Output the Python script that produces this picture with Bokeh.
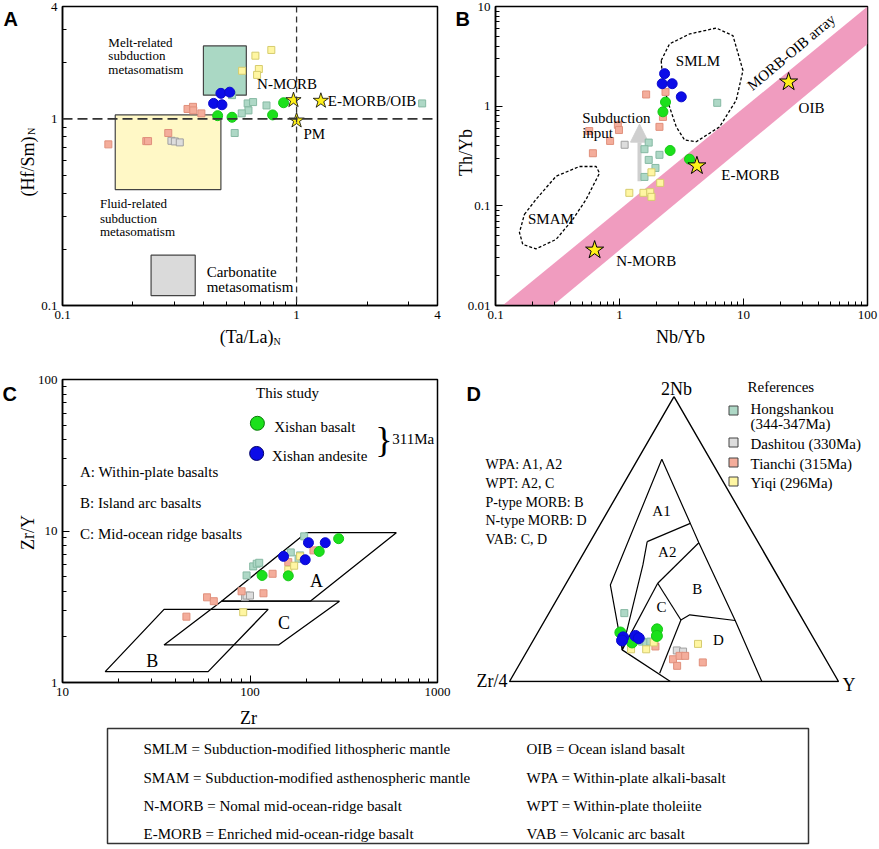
import math
from bokeh.plotting import figure
from bokeh.models import Range1d, Span, Arrow, NormalHead, FixedTicker, CustomJSTickFormatter
from bokeh.layouts import row, column
from bokeh.core.properties import value
from bokeh.embed import file_html
from bokeh.resources import INLINE

SERIF = "Liberation Serif"
SANS = "Liberation Sans"
W, H = 879, 849

GREEN_FILL, GREEN_LINE = "#1be01b", "#14c814"
BLUE_FILL, BLUE_LINE = "#0c0ce8", "#0a0acc"
STAR_FILL = "#fff01a"
REF_NAMES = ["Hongshankou", "Dashitou", "Tianchi", "Yiqi"]
REF_FILL = ["#aed8c6", "#dddddd", "#f4ad9b", "#fff6a2"]
REF_LINE = ["#86b9a3", "#a0a0a0", "#e0907c", "#d6cc6e"]

# ---------------- Panel A : (Ta/La)N vs (Hf/Sm)N ----------------
a_ticks = [0.1, 1, 4]
a_minor = [0.2, 0.3, 0.4, 0.5, 0.6, 0.7, 0.8, 0.9, 2, 3]
a_basalt_x = [0.46, 0.53, 0.79, 0.88]
a_basalt_y = [1.04, 1.02, 1.05, 1.22]
a_andesite_x = [0.475, 0.518, 0.442, 0.48]
a_andesite_y = [1.37, 1.39, 1.21, 1.19]
a_hong_x = [0.53, 0.618, 0.652, 0.623, 0.583, 0.744, 3.44, 0.544]
a_hong_y = [1.34, 1.21, 1.23, 1.11, 1.07, 1.18, 1.21, 0.84]
a_dash_x = [0.292, 0.302, 0.317]
a_dash_y = [0.763, 0.757, 0.748]
a_tian_x = [0.342, 0.361, 0.362, 0.392, 0.157, 0.228, 0.232, 0.283]
a_tian_y = [1.13, 1.16, 1.11, 1.07, 0.73, 0.76, 0.76, 0.84]
a_yiqi_x = [0.667, 0.78, 0.585, 0.69, 0.678]
a_yiqi_y = [2.18, 2.34, 1.81, 1.85, 1.72]
a_end_names = ["N-MORB", "E-MORB/OIB", "PM"]
a_end_x = [0.97, 1.27, 1.0]
a_end_y = [1.26, 1.25, 0.98]
a_field_names = ["Melt-related", "Fluid-related", "Carbonatite"]
a_field_left = [0.40, 0.168, 0.239]
a_field_right = [0.61, 0.475, 0.369]
a_field_bottom = [1.34, 0.418, 0.113]
a_field_top = [2.46, 1.05, 0.186]
a_field_fill = ["#aad8c4", "#fff8c6", "#dadada"]

# ---------------- Panel B : Nb/Yb vs Th/Yb ----------------
b_xticks = [0.1, 1, 10, 100]
b_yticks = [0.01, 0.1, 1, 10]
b_basalt_x = [2.35, 2.24, 2.56, 3.67]
b_basalt_y = [1.10, 0.878, 0.359, 0.294]
b_andesite_x = [2.31, 2.21, 2.66, 3.15]
b_andesite_y = [2.12, 1.68, 1.68, 1.24]
b_hong_x = [6.14, 1.72, 1.59, 2.1, 1.72, 1.95, 1.59]
b_hong_y = [1.08, 0.431, 0.37, 0.325, 0.289, 0.24, 0.195]
b_dash_x = [1.1]
b_dash_y = [0.41]
b_tian_x = [1.64, 2.35, 2.24, 2.1, 0.97, 0.99, 0.84, 0.61, 0.57]
b_tian_y = [1.31, 1.39, 0.78, 0.62, 0.65, 0.576, 0.448, 0.337, 0.563]
b_yiqi_x = [1.81, 2.13, 1.2, 1.56, 1.77, 1.81]
b_yiqi_y = [0.217, 0.17, 0.135, 0.135, 0.137, 0.123]
b_end_names = ["N-MORB", "E-MORB", "OIB"]
b_end_x = [0.63, 4.21, 23.1]
b_end_y = [0.036, 0.252, 1.75]
b_array_x = [0.114, 100, 100, 0.29]
b_array_y = [0.01, 10, 4.2, 0.01]
b_smlm_x = [2.17, 2.53, 3.67, 6.03, 8.22, 9.9, 8.74, 6.41, 4.16, 3.35, 2.87, 2.53, 2.24, 2.17]
b_smlm_y = [2.87, 4.21, 5.3, 6.08, 5.1, 2.28, 1.15, 0.62, 0.44, 0.458, 0.62, 0.985, 1.68, 2.87]
b_smam_x = [0.171, 0.212, 0.308, 0.475, 0.648, 0.69, 0.538, 0.42, 0.308, 0.212, 0.166, 0.156, 0.171]
b_smam_y = [0.082, 0.116, 0.198, 0.248, 0.248, 0.213, 0.116, 0.073, 0.046, 0.037, 0.041, 0.054, 0.082]
b_arrow = (1.45, 0.176, 0.66)

# ---------------- Panel C : Zr vs Zr/Y ----------------
c_xticks = [10, 100, 1000]
c_yticks = [1, 10, 100]
c_basalt_x = [297, 234, 116, 160]
c_basalt_y = [8.9, 7.33, 5.09, 5.06]
c_andesite_x = [205, 252, 151, 197]
c_andesite_y = [8.37, 8.37, 6.8, 6.46]
c_hong_x = [95.9, 104, 108.6, 112, 185, 181.6, 194.5, 165]
c_hong_y = [5.09, 5.84, 6.08, 6.17, 6.9, 6.56, 9.22, 7.22]
c_dash_x = [94, 95.9, 100]
c_dash_y = [3.66, 3.75, 3.75]
c_tian_x = [45.8, 59, 64.1, 90.2, 118, 132, 160, 218]
c_tian_y = [2.72, 3.65, 3.44, 4.0, 3.88, 5.22, 6.23, 7.45]
c_yiqi_x = [92, 160, 172, 185]
c_yiqi_y = [2.91, 5.55, 5.9, 6.8]
c_field_names = ["A", "B", "C"]
c_field_x = [[70.5, 199.5, 603, 209.6], [16.9, 34.8, 125, 59.8], [34.8, 70.5, 300, 142]]
c_field_y = [[3.44, 9.75, 9.75, 3.44], [1.18, 3.04, 3.04, 1.18], [1.77, 3.44, 3.44, 1.77]]

# ---------------- Panel D : 2Nb - Zr/4 - Y (percent) ----------------
d_basalt_nb = [17.2, 13.7, 18.3, 16.0]
d_basalt_zr = [57.7, 55.9, 46.0, 47.2]
d_basalt_y = [25.1, 30.4, 35.7, 36.8]
d_andesite_nb = [15.5, 14.4, 16.0, 15.2]
d_andesite_zr = [57.7, 58.6, 53.7, 53.1]
d_andesite_y = [26.8, 27.0, 30.3, 31.7]
d_hong_nb = [24.0, 14.0, 13.7, 14.0]
d_hong_zr = [53.1, 52.7, 51.6, 50.2]
d_hong_y = [22.9, 33.3, 34.7, 35.8]
d_dash_nb = [10.9, 10.5]
d_dash_zr = [43.7, 42.0]
d_dash_y = [45.4, 47.5]
d_tian_nb = [12.3, 7.8, 9.0, 9.0, 5.5, 6.7]
d_tian_zr = [49.5, 46.4, 43.8, 42.1, 46.3, 37.9]
d_tian_y = [38.2, 45.8, 47.2, 48.9, 48.2, 55.4]
d_yiqi_nb = [11.3, 11.3, 13.7, 13.2]
d_yiqi_zr = [57.4, 52.8, 49.3, 36.1]
d_yiqi_y = [31.3, 35.9, 37.0, 50.7]
d_points = {
    "apex": (78.0, 14.7, 7.3), "left_knee": (33.9, 52.4, 13.7), "base": (11.1, 60.2, 28.7),
    "bottom_mid": (0.0, 51.1, 48.9), "a1a2_r": (55.5, 17.3, 27.2), "a2b_r": (48.7, 18.1, 33.2),
    "bd_r": (21.4, 20.7, 57.9), "bottom_r": (0.0, 23.3, 76.7), "a1a2_l": (49.1, 33.6, 17.3),
    "inner_knee": (40.9, 39.0, 20.1), "c_top": (34.5, 37.7, 27.8), "cd_top": (21.6, 37.1, 41.3),
    "d_knee": (23.4, 33.5, 43.1), "cd_bottom": (2.9, 52.9, 44.2),
}
d_lines = [["apex", "left_knee", "base", "bottom_mid"],
           ["apex", "a1a2_r", "a2b_r", "bd_r", "bottom_r"],
           ["a1a2_l", "inner_knee", "base"], ["a1a2_l", "a1a2_r"], ["a2b_r", "c_top"],
           ["c_top", "base"], ["c_top", "cd_top"], ["cd_top", "d_knee", "bd_r"], ["cd_top", "cd_bottom"]]
d_field_labels = ["A1", "A2", "B", "C", "D"]
d_field_label_pos = [(60.0, 23.8, 16.2), (45.3, 29.4, 25.3), (32.6, 26.6, 40.8), (26.0, 40.8, 33.2), (14.4, 29.3, 56.3)]

# ---------------- helpers ----------------
fmt = CustomJSTickFormatter(code="return String(tick);")


def tern(nb, zr, yy):
    xs, ys = [], []
    for a_, b_, c_ in zip(nb, zr, yy):
        s = a_ + b_ + c_
        a, c = a_ / s, c_ / s
        xs.append(c + a / 2)
        ys.append(a * math.sqrt(3) / 2)
    return xs, ys


def minors(ticks):
    out = []
    for i in range(len(ticks) - 1):
        lo = ticks[i]
        for k in range(2, 10):
            v = lo * k
            if v < ticks[i + 1]:
                out.append(v)
    return out


def style_log(p, xt, xm, yt, ym):
    p.grid.visible = False
    p.outline_line_color = "black"
    p.outline_line_width = 1.5
    p.xaxis.ticker = FixedTicker(ticks=xt, minor_ticks=xm)
    p.yaxis.ticker = FixedTicker(ticks=yt, minor_ticks=ym)
    for ax in (p.xaxis[0], p.yaxis[0]):
        ax.formatter = fmt
        ax.axis_line_width = 1.5
        ax.axis_line_color = "black"
        ax.major_tick_in = 7
        ax.major_tick_out = 0
        ax.minor_tick_in = 4
        ax.minor_tick_out = 0
        ax.major_tick_line_color = "black"
        ax.minor_tick_line_color = "black"
        ax.major_label_text_font = SERIF
        ax.major_label_text_font_size = "13px"
        ax.major_label_text_color = "black"
        ax.major_label_standoff = 5


def dtext(p, xs, ys, texts, size, align="left", angle=0.0, font=SERIF, style="normal", baseline="middle"):
    p.text(x=xs, y=ys, text=texts, text_font=value(font), text_font_size=f"{size}px",
           text_align=align, text_baseline=baseline, angle=angle, text_color="black",
           text_font_style=style)


def squares(p, xs_list, ys_list, size=7):
    for xs, ys, fc, lc in zip(xs_list, ys_list, REF_FILL, REF_LINE):
        p.scatter(xs, ys, marker="square", size=size, fill_color=fc, line_color=lc, line_width=1)


def circles(p, bx, by, ax, ay, size=10):
    p.scatter(bx, by, marker="circle", size=size, fill_color=GREEN_FILL, line_color=GREEN_LINE)
    p.scatter(ax, ay, marker="circle", size=size, fill_color=BLUE_FILL, line_color=BLUE_LINE)


common = dict(output_backend="svg", toolbar_location=None, background_fill_color="white",
              border_fill_color="white")

# ---------------- Panel A ----------------
pA = figure(width=446, height=350, x_axis_type="log", y_axis_type="log",
            x_range=Range1d(0.1, 4), y_range=Range1d(0.1, 4),
            min_border_left=62, min_border_right=9, min_border_top=6, min_border_bottom=45, **common)
style_log(pA, a_ticks, a_minor, a_ticks, a_minor)
pA.quad(left=a_field_left, right=a_field_right, bottom=a_field_bottom, top=a_field_top,
        fill_color=a_field_fill, line_color="#444444", line_width=1.2)
pA.add_layout(Span(location=1, dimension="height", line_color="#333333", line_width=1.3, line_dash="6 4"))
pA.add_layout(Span(location=1, dimension="width", line_color="#333333", line_width=1.6, line_dash="10 5"))
squares(pA, [a_hong_x, a_dash_x, a_tian_x, a_yiqi_x], [a_hong_y, a_dash_y, a_tian_y, a_yiqi_y])
circles(pA, a_basalt_x, a_basalt_y, a_andesite_x, a_andesite_y)
pA.scatter(a_end_x, a_end_y, marker="star", size=16, fill_color=STAR_FILL, line_color="black", line_width=0.8)
dtext(pA, [0.157, 0.157, 0.157], [2.58, 2.18, 1.84], ["Melt-related", "subduction", "metasomatism"], 13)
dtext(pA, [0.1445, 0.1445, 0.1445], [0.351, 0.294, 0.249], ["Fluid-related", "subduction", "metasomatism"], 13)
dtext(pA, [0.413, 0.413], [0.152, 0.126], ["Carbonatite", "metasomatism"], 15)
dtext(pA, [0.678, 1.36, 1.07], [1.53, 1.247, 0.829], a_end_names, 15)

# ---------------- Panel B ----------------
pB = figure(width=433, height=350, x_axis_type="log", y_axis_type="log",
            x_range=Range1d(0.1, 100), y_range=Range1d(0.01, 10),
            min_border_left=49, min_border_right=12, min_border_top=6, min_border_bottom=45, **common)
style_log(pB, b_xticks, minors(b_xticks), b_yticks, minors(b_yticks))
pB.patch(b_array_x, b_array_y, fill_color="#f09cbf", line_color=None)
pB.line(b_smlm_x, b_smlm_y, line_color="black", line_width=1.3, line_dash="3 2")
pB.line(b_smam_x, b_smam_y, line_color="black", line_width=1.3, line_dash="3 2")
pB.add_layout(Arrow(end=NormalHead(size=18, fill_color="#cfcfcf", line_color="#cfcfcf"),
                    x_start=b_arrow[0], y_start=b_arrow[1], x_end=b_arrow[0], y_end=b_arrow[2],
                    line_color="#cfcfcf", line_width=4, level="underlay"))
squares(pB, [b_hong_x, b_dash_x, b_tian_x, b_yiqi_x], [b_hong_y, b_dash_y, b_tian_y, b_yiqi_y])
circles(pB, b_basalt_x, b_basalt_y, b_andesite_x, b_andesite_y)
pB.scatter(b_end_x, b_end_y, marker="star", size=19, fill_color=STAR_FILL, line_color="black", line_width=1)
dtext(pB, [4.29], [2.87], ["SMLM"], 15, align="center")
dtext(pB, [0.28], [0.073], ["SMAM"], 15, align="center")
dtext(pB, [0.5, 0.5], [0.753, 0.534], ["Subduction", "input"], 15)
dtext(pB, [24.3], [3.48], ["MORB-OIB array"], 15, align="center", angle=math.radians(40))
dtext(pB, [27.8, 6.62, 0.94], [0.948, 0.205, 0.0277], ["OIB", "E-MORB", "N-MORB"], 15)

# ---------------- Panel C ----------------
pC = figure(width=455, height=375, x_axis_type="log", y_axis_type="log",
            x_range=Range1d(10, 1000), y_range=Range1d(1, 100),
            min_border_left=62, min_border_right=18, min_border_top=29, min_border_bottom=43, **common)
style_log(pC, c_xticks, minors(c_xticks), c_yticks, minors(c_yticks))
pC.patches(c_field_x, c_field_y, fill_color=None, line_color="black", line_width=1.3)
squares(pC, [c_hong_x, c_dash_x, c_tian_x, c_yiqi_x], [c_hong_y, c_dash_y, c_tian_y, c_yiqi_y])
circles(pC, c_basalt_x, c_basalt_y, c_andesite_x, c_andesite_y)
dtext(pC, [226, 30.1, 152], [4.71, 1.39, 2.47], c_field_names, 18, align="center")
dtext(pC, [158.5], [81.2], ["This study"], 15, align="center")
pC.scatter([109.5], [51.4], marker="circle", size=14, fill_color=GREEN_FILL, line_color="#0a7a0a")
pC.scatter([108.5], [32.5], marker="circle", size=14, fill_color=BLUE_FILL, line_color="#000066")
dtext(pC, [134.5, 131], [48.8, 31.2], ["Xishan basalt", "Xishan andesite"], 15)
dtext(pC, [518], [39.8], ["}"], 36, align="center")
dtext(pC, [574], [40.3], ["311Ma"], 15)
dtext(pC, [12.4, 12.4, 12.4], [24.6, 15.3, 9.6],
      ["A: Within-plate basalts", "B: Island arc basalts", "C: Mid-ocean ridge basalts"], 15)

# ---------------- Panel D (ternary) ----------------
# frame spans page x 455..879, y 379..682; triangle base at page y 681, side 329 px
pD = figure(width=424, height=375, x_range=Range1d(-54 / 329, 370 / 329), y_range=Range1d(-1 / 329, 302 / 329),
            x_axis_location=None, y_axis_location=None, min_border_left=0, min_border_right=0,
            min_border_top=29, min_border_bottom=43, **common)
pD.grid.visible = False
pD.outline_line_color = None
tx, ty = tern([100, 0, 0, 100], [0, 100, 0, 0], [0, 0, 100, 0])
pD.line(tx, ty, line_color="black", line_width=1.4)
for ln in d_lines:
    pts = [d_points[k] for k in ln]
    lx, ly = tern([q[0] for q in pts], [q[1] for q in pts], [q[2] for q in pts])
    pD.line(lx, ly, line_color="black", line_width=1.2)
fx, fy = tern([q[0] for q in d_field_label_pos], [q[1] for q in d_field_label_pos], [q[2] for q in d_field_label_pos])
dtext(pD, fx, fy, d_field_labels, 15, align="center")
sq = [tern(d_hong_nb, d_hong_zr, d_hong_y), tern(d_dash_nb, d_dash_zr, d_dash_y),
      tern(d_tian_nb, d_tian_zr, d_tian_y), tern(d_yiqi_nb, d_yiqi_zr, d_yiqi_y)]
squares(pD, [s[0] for s in sq], [s[1] for s in sq])
bx, by = tern(d_basalt_nb, d_basalt_zr, d_basalt_y)
ax_, ay_ = tern(d_andesite_nb, d_andesite_zr, d_andesite_y)
circles(pD, bx, by, ax_, ay_, size=11)
dtext(pD, [(676 - 509) / 329], [(681 - 388) / 329], ["2Nb"], 18, align="center")
dtext(pD, [-0.073] * 5, [(681 - v) / 329 for v in (464, 483, 502, 520, 539)],
      ["WPA: A1, A2", "WPT: A2, C", "P-type MORB: B", "N-type MORB: D", "VAB: C, D"], 14)
dtext(pD, [(747 - 509) / 329], [(681 - 386) / 329], ["References"], 15)
pD.scatter([(733 - 509) / 329] * 4, [(681 - v) / 329 for v in (410, 442, 462, 481)], marker="square",
           size=9, fill_color=REF_FILL, line_color="#444444", line_width=1)
dtext(pD, [(750 - 509) / 329] * 5, [(681 - v) / 329 for v in (408, 423, 443, 463, 482)],
      ["Hongshankou", "(344-347Ma)", "Dashitou (330Ma)", "Tianchi (315Ma)", "Yiqi (296Ma)"], 15)

# ---------------- Abbreviation box ----------------
pL = figure(width=W, height=124, x_range=Range1d(0, W), y_range=Range1d(H, 725),
            x_axis_location=None, y_axis_location=None, min_border_left=0, min_border_right=0,
            min_border_top=0, min_border_bottom=0, **common)
pL.grid.visible = False
pL.outline_line_color = None
pL.quad(left=[107], right=[808], top=[728], bottom=[843], fill_color=None, line_color="#333333", line_width=1.5)
abbr_left = ["SMLM = Subduction-modified lithospheric mantle",
             "SMAM = Subduction-modified asthenospheric mantle",
             "N-MORB = Nomal mid-ocean-ridge basalt",
             "E-MORB = Enriched mid-ocean-ridge basalt"]
abbr_right = ["OIB = Ocean island basalt", "WPA = Within-plate alkali-basalt",
              "WPT = Within-plate tholeiite", "VAB = Volcanic arc basalt"]
rows_y = [748, 777, 805, 833]
dtext(pL, [143] * 4, rows_y, abbr_left, 15)
dtext(pL, [526] * 4, rows_y, abbr_right, 15)

# ---------------- transparent overlay for texts outside the plot frames ----------------
ov = figure(width=W, height=H, x_range=Range1d(0, W), y_range=Range1d(0, H),
            x_axis_location=None, y_axis_location=None, min_border_left=0, min_border_right=0,
            min_border_top=0, min_border_bottom=0, output_backend="svg", toolbar_location=None,
            background_fill_color=None, border_fill_color=None, outline_line_color=None,
            styles={"position": "absolute", "left": "0px", "top": "0px", "z-index": "5",
                    "pointer-events": "none"})
ov.grid.visible = False


def ovt(px, py, text, size, align="center", baseline="middle", angle=0.0, font=SERIF, style="normal"):
    dtext(ov, [px], [H - py], [text], size, align=align, angle=angle, font=font, style=style,
          baseline=baseline)


for letter, lx, ly in (("A", 3, 18), ("B", 455, 18), ("C", 2, 393), ("D", 466, 393)):
    ovt(lx, ly, letter, 20, align="left", baseline="alphabetic", font=SANS, style="bold")
ovt(273, 336, "(Ta/La)", 18, align="right")
ovt(273, 341, "N", 10, align="left")
ovt(27, 166, "(Hf/Sm)", 18, angle=math.pi / 2)
ovt(31, 131, "N", 10, angle=math.pi / 2)
ovt(680, 336, "Nb/Yb", 18)
ovt(465, 152, "Th/Yb", 18, angle=math.pi / 2)
ovt(248, 717, "Zr", 18)
ovt(27, 532, "Zr/Y", 18, angle=math.pi / 2)
ovt(507, 680, "Zr/4", 18, align="right")
ovt(842, 684, "Y", 18, align="left")

layout = column(row(pA, pB), row(pC, pD), pL)
open("out.html", "w").write(file_html([layout, ov], INLINE))
